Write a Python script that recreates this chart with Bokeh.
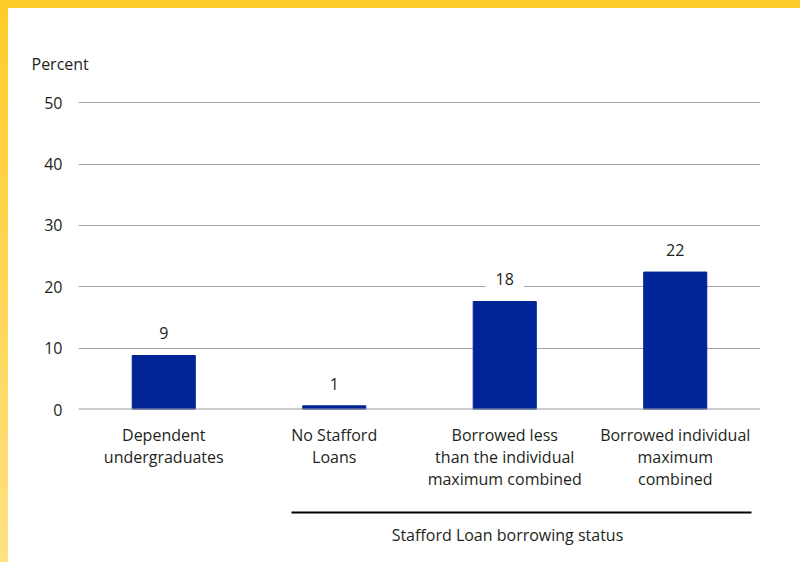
from bokeh.plotting import figure
from bokeh.models import (ColumnDataSource, Range1d, FixedTicker, LabelSet,
                          Span, Column, LinearAxis)
from bokeh.core.properties import value
from bokeh.embed import file_html
from bokeh.resources import INLINE

categories = ["Dependent\nundergraduates", "No Stafford\nLoans",
              "Borrowed less\nthan the individual\nmaximum combined",
              "Borrowed individual\nmaximum\ncombined"]
values = [8.8, 0.6, 17.6, 22.4]
value_labels = ["9", "1", "18", "22"]
y_ticks = [0, 10, 20, 30, 40, 50]
y_title = "Percent"
group_title = "Stafford Loan borrowing status"
group_span = (1.249, 3.947)   # bracket extent, in category slots (0..4)
group_label_pos = 2.516

FONT = "Open Sans"
TXT = "#231f20"
BAR = "#002496"

xpos = [i + 0.5 for i in range(len(categories))]
src = ColumnDataSource(dict(x=xpos, val=values, lab=value_labels,
                            ly=[v + 3.6 for v in values],
                            bw=[10 * len(s) + 18 for s in value_labels]))

p = figure(x_range=Range1d(0, len(categories)), y_range=Range1d(0, 50.2),
           width=792, height=554, output_backend="svg", toolbar_location=None,
           min_border_left=70, min_border_right=40, min_border_top=93, min_border_bottom=153)
p.margin = (8, 0, 0, 8)
p.outline_line_color = None
p.border_fill_color = "white"
p.background_fill_color = "white"
p.styles = {"background-color": "white"}

p.title.text = y_title
p.title.align = "left"
p.title.offset = -47
p.title.standoff = 54
p.title.text_font = FONT
p.title.text_font_size = "16px"
p.title.text_font_style = "normal"
p.title.text_color = TXT

p.vbar(x="x", top="val", width=0.37, source=src, fill_color=BAR, line_color=BAR)
p.rect(x="x", y="ly", width="bw", height=24, width_units="screen", height_units="screen",
       source=src, fill_color="white", line_color=None, level="overlay")

p.xgrid.visible = False
p.ygrid.grid_line_color = "#a6a6a6"
p.ygrid.grid_line_width = 1
p.yaxis.ticker = FixedTicker(ticks=y_ticks)
p.xaxis.ticker = FixedTicker(ticks=xpos)
p.xaxis.major_label_overrides = {x: c for x, c in zip(xpos, categories)}
p.add_layout(Span(location=0, dimension="width", line_color="#999999", line_width=2))

for ax in (p.xaxis[0], p.yaxis[0]):
    ax.axis_line_color = None
    ax.major_tick_line_color = None
    ax.minor_tick_line_color = None
    ax.major_label_text_font = FONT
    ax.major_label_text_font_size = "16px"
    ax.major_label_text_color = TXT
p.yaxis.major_label_standoff = 10
p.xaxis.major_label_standoff = 8
p.xaxis.major_label_text_line_height = 1.0
p.xaxis.axis_label = "\u00a0"
p.xaxis.axis_label_standoff = 0
p.xaxis.axis_label_text_font_size = "16px"

# group bracket as a bounded secondary axis
gax = LinearAxis(bounds=group_span, ticker=FixedTicker(ticks=[group_label_pos]),
                 major_label_overrides={group_label_pos: group_title})
gax.axis_line_color = "black"
gax.axis_line_width = 2
gax.major_tick_line_color = None
gax.minor_tick_line_color = None
gax.major_tick_out = 0
gax.major_label_standoff = 11
gax.major_label_text_font = FONT
gax.major_label_text_font_size = "16px"
gax.major_label_text_color = TXT
p.add_layout(gax, "below")

labels = LabelSet(x="x", y="ly", text="lab", source=src, text_align="center",
                  text_baseline="middle", text_font=value(FONT), text_font_size="16px",
                  text_color=TXT, level="overlay")
p.add_layout(labels)

layout = Column(p, width=800, height=562, sizing_mode="fixed",
                styles={"background": "linear-gradient(to bottom, #ffcc29, #ffe183)"})

open("out.html", "w").write(file_html(layout, INLINE))
